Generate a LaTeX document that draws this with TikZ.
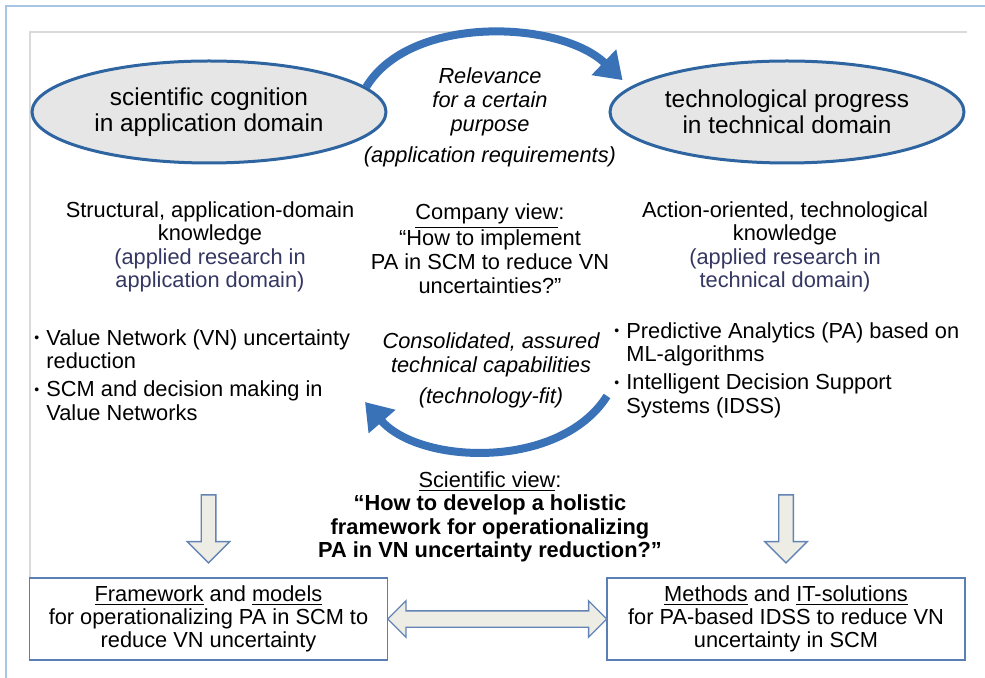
\documentclass[tikz,border=0pt]{standalone}
\usepackage{fontspec}
\setmainfont{Liberation Sans}
\usetikzlibrary{shapes.geometric,shapes.arrows,arrows.meta,calc}
\definecolor{ellblue}{RGB}{46,100,160}
\definecolor{arcblue}{RGB}{58,114,184}
\definecolor{ellgray}{RGB}{230,230,230}
\definecolor{subblue}{RGB}{52,55,98}
\definecolor{boxblue}{RGB}{90,127,181}
\definecolor{arrfill}{RGB}{238,237,229}
\definecolor{arrline}{RGB}{99,132,180}
\definecolor{framblue}{RGB}{167,196,228}
\definecolor{framgray}{RGB}{218,218,218}
\newcommand{\bul}{\makebox[6pt][l]{\raisebox{0.2ex}{\fontsize{7}{7}\selectfont\textbullet}}}
\newcommand{\ind}{\hspace*{6pt}}

\begin{document}
\begin{tikzpicture}[x=0.5pt,y=-0.5pt,
    txt/.style={align=center,inner sep=0pt,font=\fontsize{10.9}{11.7}\selectfont},
    itxt/.style={txt,font=\fontsize{10.9}{12}\selectfont\itshape},
    domainell/.style={ellipse,draw=ellblue,line width=1.5pt,fill=ellgray,minimum width=177pt,minimum height=51pt,inner sep=0pt,align=center,font=\fontsize{12.2}{13}\selectfont},
    arcarrow/.style={draw=arcblue,line width=4pt,-{Triangle[length=13pt,width=17pt]}},
    resultbox/.style={draw=boxblue,line width=0.8pt,minimum width=179pt,minimum height=41pt,inner sep=0pt,align=center,font=\fontsize{10.9}{11.5}\selectfont},
    blockarrow/.style={draw=arrline,fill=arrfill,line width=0.7pt,inner xsep=0pt}]
    \useasboundingbox (0,0) rectangle (985,678);
    \draw[framblue,line width=1pt] (6,700) |- (1000,6);
    \draw[framgray,line width=0.6pt] (30,578) |- (967,32);

    \node[domainell] (sci) at (209,112) {scientific cognition\\in application domain};
    \node[domainell] (tech) at (787,112) {technological progress\\in technical domain};
    \node[itxt] (rel) at (490,117) {Relevance\\for a certain\\purpose\\[3.5pt](application requirements)};
    \draw[arcarrow,shorten >=5pt] (sci.9) .. controls +(44,-73) and +(-70,-67) .. (tech.171);

    \node[txt] (appk) at (210,247) {Structural, application-domain\\knowledge\\\textcolor{subblue}{(applied research in}\\\textcolor{subblue}{application domain)}};
    \node[txt,font=\fontsize{10.9}{12}\selectfont] (comp) at (490,249) {\underline{Company view}:\\“How to implement\\PA in SCM to reduce VN\\uncertainties?”};
    \node[txt] (techk) at (785,247) {Action-oriented, technological\\knowledge\\\textcolor{subblue}{(applied research in}\\\textcolor{subblue}{technical domain)}};

    \node[txt,align=left,anchor=west] (appb) at (34,375) {\bul Value Network (VN) uncertainty\\\ind reduction\\[2.5pt]\bul SCM and decision making in\\\ind Value Networks};
    \node[txt,align=left,anchor=west] (techb) at (614,370) {\bul Predictive Analytics (PA) based on\\\ind ML-algorithms\\[2.5pt]\bul Intelligent Decision Support\\\ind Systems (IDSS)};
    \node[itxt] (fit) at (491,370) {Consolidated, assured\\technical capabilities\\[3.5pt](technology-fit)};
    \coordinate (fitS) at (607,396);
    \coordinate (fitE) at (365,402);
    \draw[arcarrow] (fitS) .. controls (560,470) and (420,465) .. (fitE);

    \node[txt] (scv) at (490,517) {\underline{Scientific view}:\\\textbf{“How to develop a holistic}\\\textbf{framework for operationalizing}\\\textbf{PA in VN uncertainty reduction?”}};

    \node[resultbox] (fw) at (208.5,619) {\underline{Framework} and \underline{models}\\for operationalizing PA in SCM to\\reduce VN uncertainty};
    \node[resultbox] (mt) at (786,619) {\underline{Methods} and \underline{IT-solutions}\\for PA-based IDSS to reduce VN\\uncertainty in SCM};

    \node[blockarrow,single arrow,rotate=-90,minimum height=34pt,inner ysep=3.3pt,single arrow head extend=7pt] (dnL) at ($(fw.north)+(0,-52)$) {};
    \node[blockarrow,single arrow,rotate=-90,minimum height=34pt,inner ysep=3.3pt,single arrow head extend=7pt] (dnR) at ($(mt.north)+(0,-52)$) {};
    \node[blockarrow,double arrow,minimum height=109.5pt,inner ysep=3.75pt,double arrow head extend=5pt] (link) at ($(fw.east)!0.5!(mt.west)$) {};
\end{tikzpicture}
\end{document}
